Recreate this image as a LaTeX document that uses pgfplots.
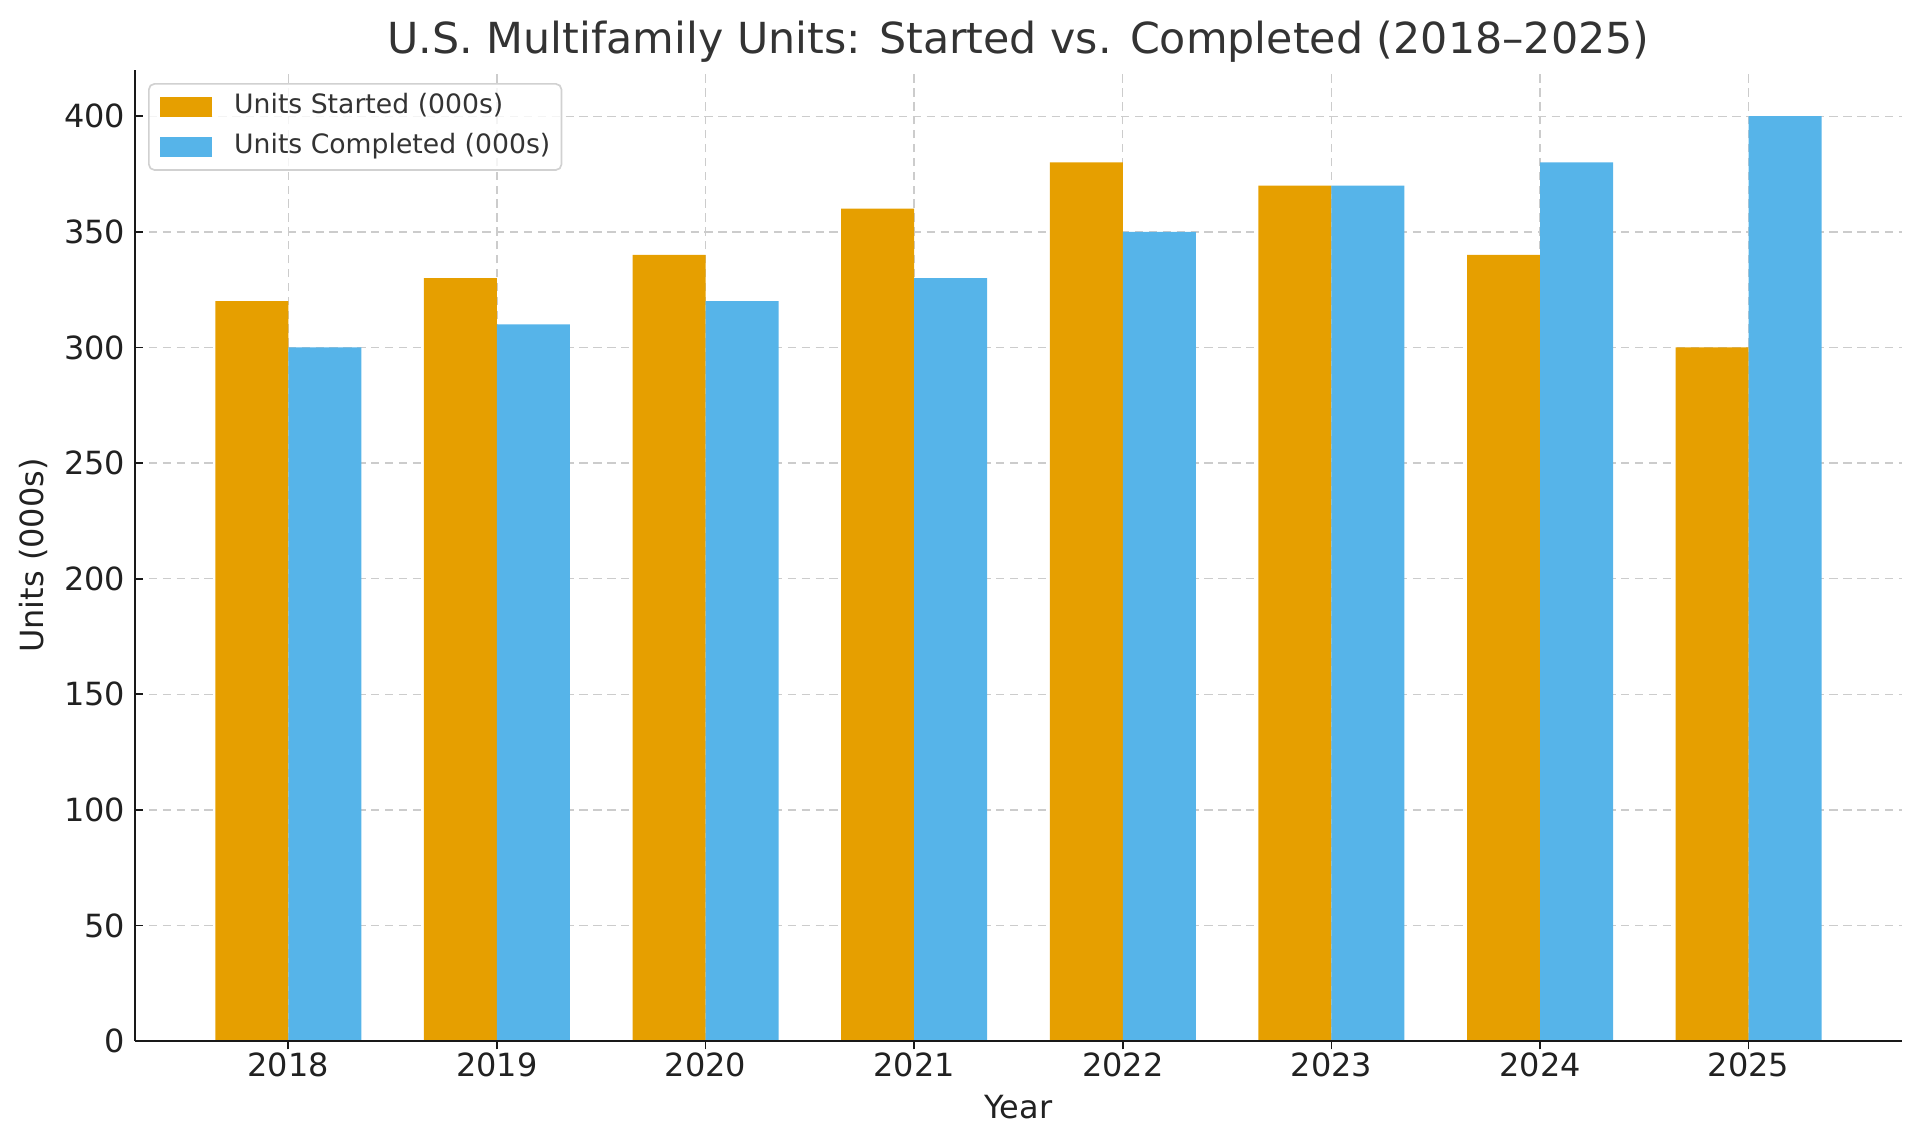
\documentclass[border=0pt]{standalone}
\usepackage{fontspec}
\setmainfont{DejaVu Sans}
\usepackage{pgfplots}
\pgfplotsset{compat=1.18}
\definecolor{cstart}{HTML}{E69F00}
\definecolor{ccomp}{HTML}{56B4E9}
\definecolor{titlegray}{HTML}{333333}
\pgfplotsset{
 layers/my layer set/.define layer set={
   axis background,axis grid,main,axis ticks,axis lines,axis tick labels,
   axis descriptions,axis foreground
 }{/pgfplots/layers/standard},
}
\begin{document}
\begin{tikzpicture}
\begin{axis}[
  set layers=my layer set,
  at={(0,0)}, anchor=south west,
  scale only axis, width=636.1pt, height=349.6pt,
  xmin=-0.735, xmax=7.735, ymin=0, ymax=420,
  axis x line*=bottom, axis y line*=left,
  axis line style={black!90, line width=0.9pt},
  xtick={0,1,2,3,4,5,6,7},
  xticklabels={2018,2019,2020,2021,2022,2023,2024,2025},
  ytick={0,50,100,150,200,250,300,350,400},
  tick align=inside, major tick length=3pt,
  tick style={black!90, line width=0.6pt},
  grid=major,
  major grid style={dash pattern=on 3pt off 2pt, color=black!20, line width=0.5pt},
  ybar, bar width=0.35,
  ticklabel style={font=\fontsize{11.5}{13}\selectfont, text=black!87},
  xticklabel style={yshift=2.2pt},
  /pgf/number format/assume math mode=true,
  scaled y ticks=false,
  every axis title shift=0pt,
  title={U.S. Multifamily Units: Started vs. Completed (2018–2025)},
  title style={at={(axis description cs:0.5,1)}, anchor=base, yshift=6.1pt,
    font=\fontsize{15.4}{19}\selectfont, text=titlegray, inner sep=0pt},
  xlabel={Year},
  xlabel style={at={([yshift=-27.7pt]axis description cs:0.5,0)}, anchor=base,
    font=\fontsize{11.5}{13}\selectfont, text=black!87, inner sep=0pt},
  ylabel={Units (000s)},
  ylabel style={at={([xshift=-33pt]axis description cs:0,0.5)}, anchor=base,
    font=\fontsize{11.5}{13}\selectfont, text=black!87, inner sep=0pt},
  legend image code/.code={\fill[#1, sharp corners, fill opacity=1] (0pt,-3.6pt) rectangle (18.7pt,3.6pt);},
  legend cell align=left,
  legend style={at={(axis description cs:0,1)}, anchor=north west,
    xshift=4.7pt, yshift=-4.7pt, draw=black!18, line width=0.6pt,
    rounded corners=2pt, fill=white, fill opacity=0.8, text opacity=1,
    font=\fontsize{9.6}{11}\selectfont, inner xsep=4pt, inner ysep=3.5pt,
    row sep=5pt,
    nodes={inner sep=0pt, text height=7pt, text depth=2.5pt, text=black!80},
    /tikz/every odd column/.append style={column sep=8pt}},
]
\addplot[fill=cstart, draw=none, bar shift=-0.175] coordinates {
  (0,320) (1,330) (2,340) (3,360) (4,380) (5,370) (6,340) (7,300)};
\addlegendentry{Units Started (000s)}
\addplot[fill=ccomp, draw=none, bar shift=0.175] coordinates {
  (0,300) (1,310) (2,320) (3,330) (4,350) (5,370) (6,380) (7,400)};
\addlegendentry{Units Completed (000s)}
\end{axis}
\pgfresetboundingbox
\useasboundingbox (-48.6pt,-37.44pt) rectangle (642.6pt,374.8pt);
\end{tikzpicture}
\end{document}
